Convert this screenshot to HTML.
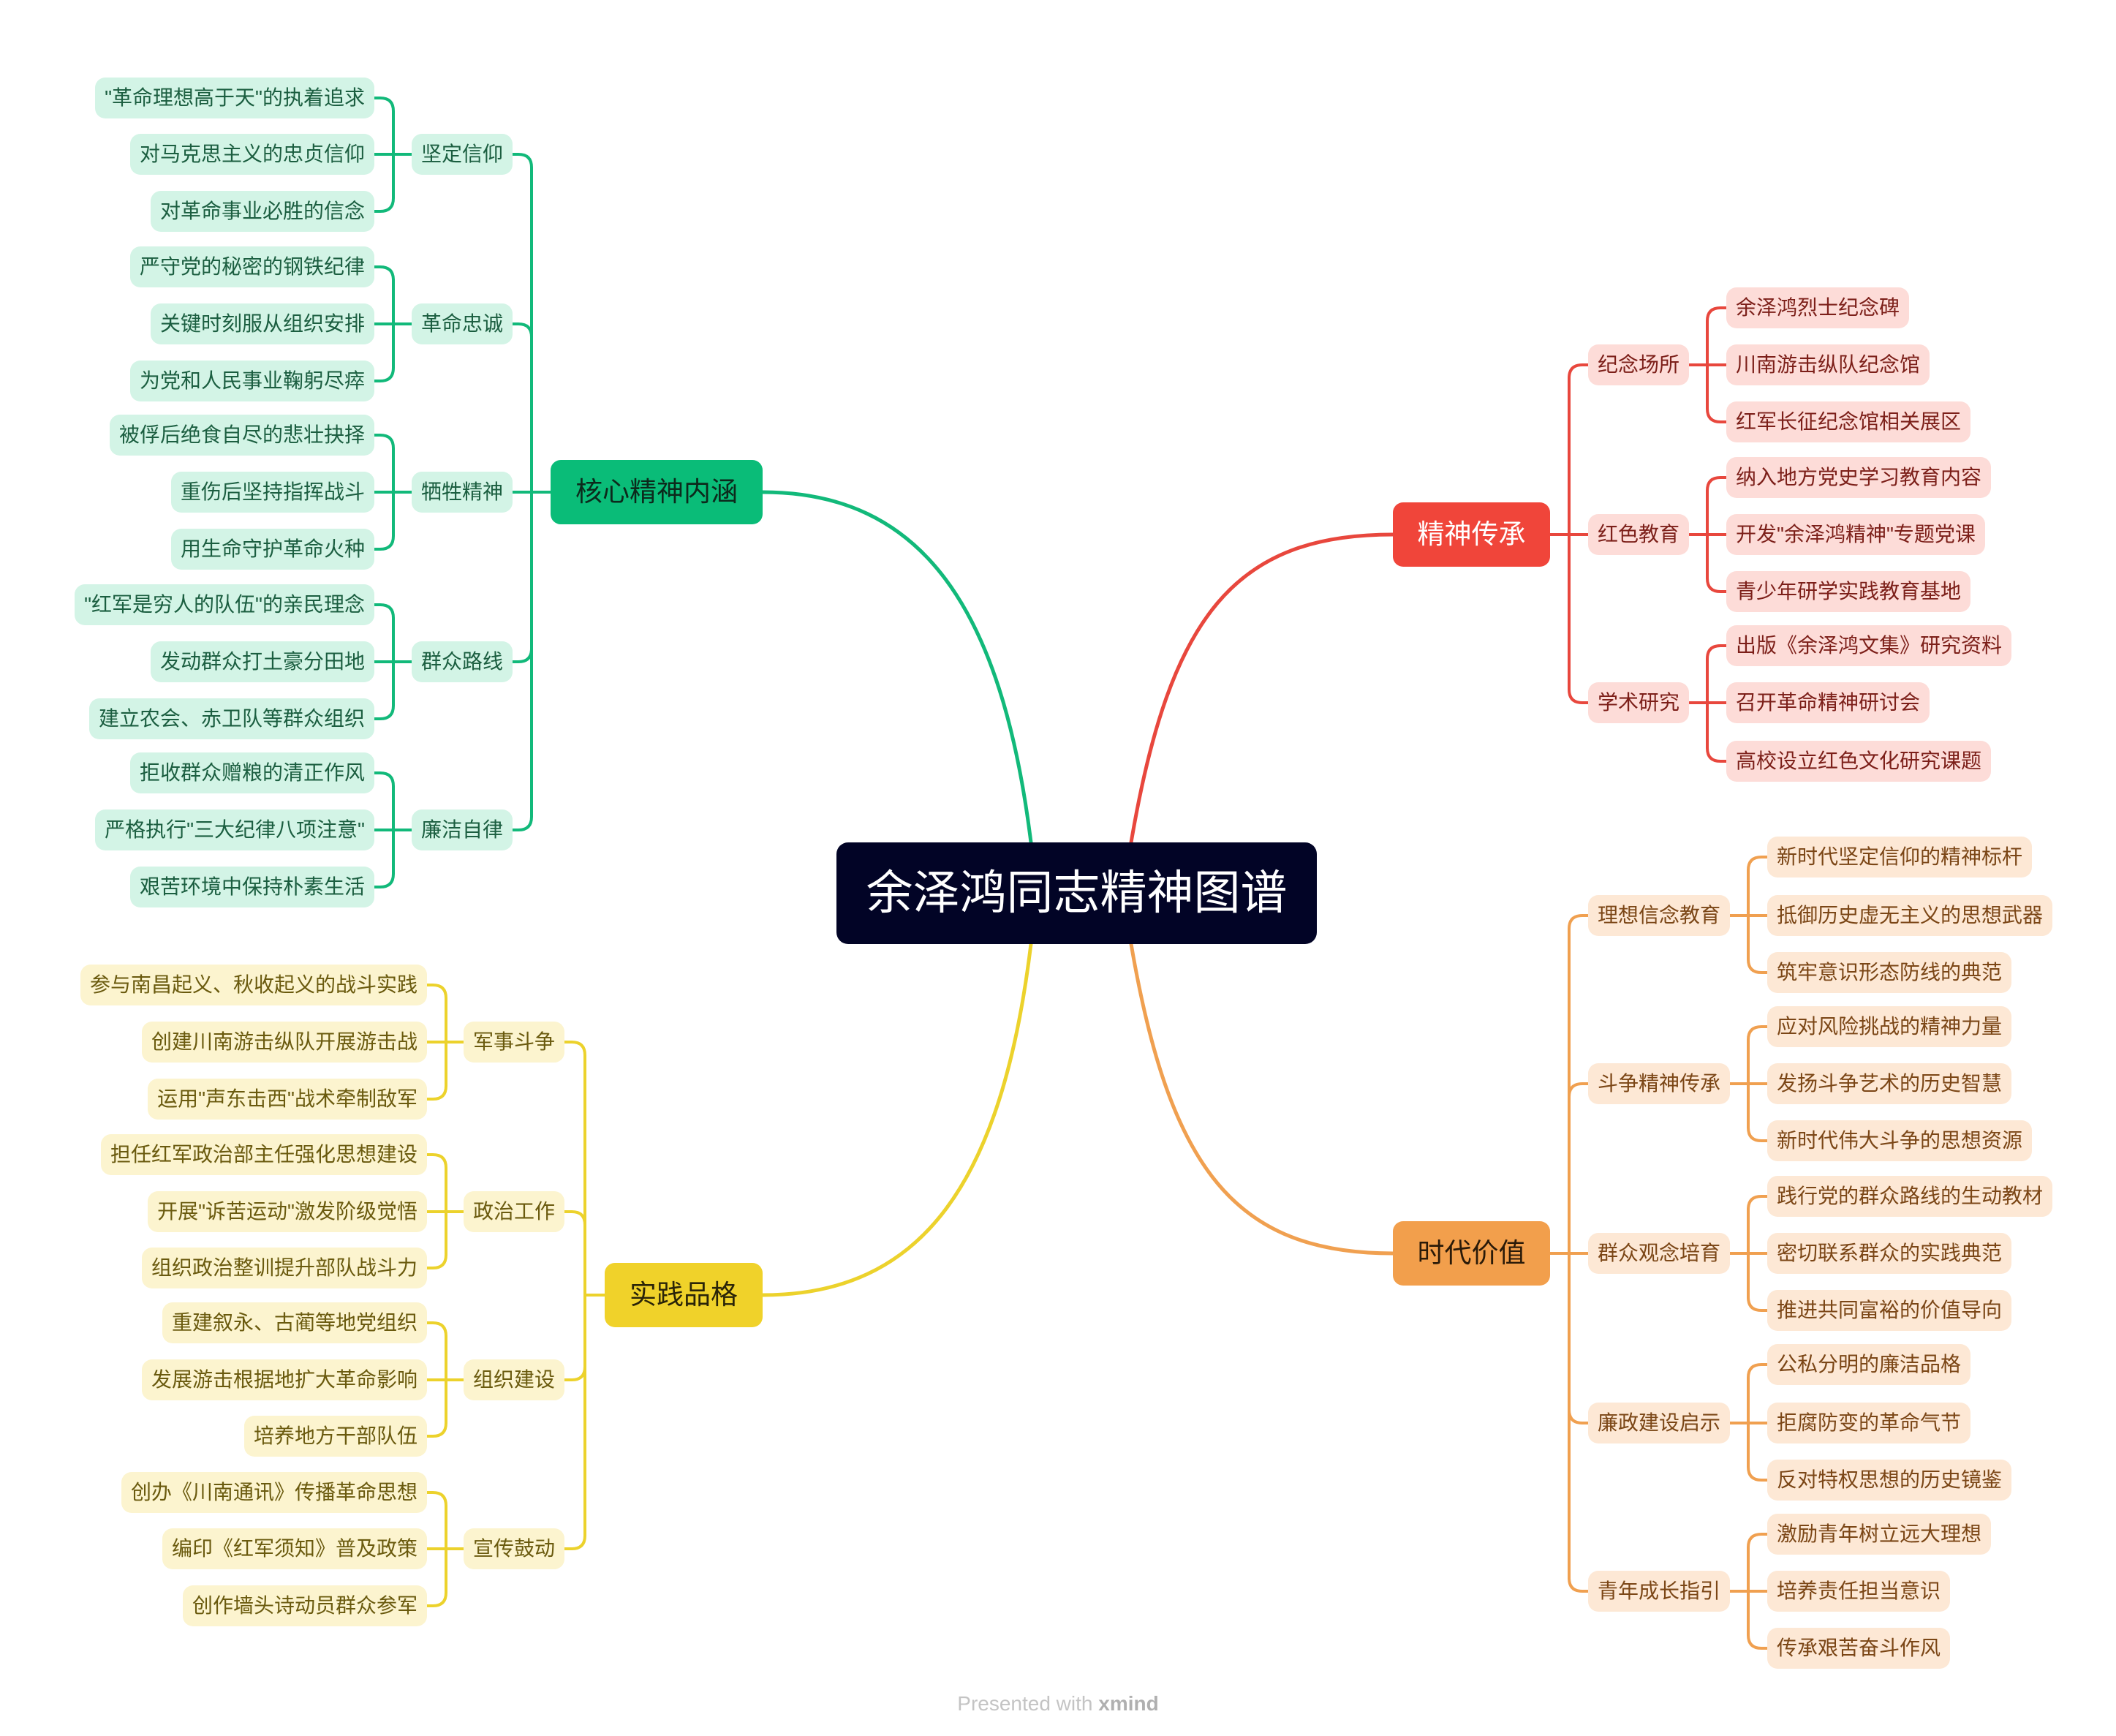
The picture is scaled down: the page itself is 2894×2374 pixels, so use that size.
<!DOCTYPE html>
<html><head><meta charset="utf-8"><style>
body{margin:0;width:2894px;height:2374px;position:relative;background:#fff;overflow:hidden;font-family:"Liberation Sans","Noto Sans CJK SC",sans-serif}
.n{position:absolute;height:56px;line-height:56px;font-size:28px;padding:0 13px;border-radius:14px;white-space:nowrap;transform:translateY(-28px)}
.g{background:#d3f4e6;color:#1b5e40}.r{background:#fddcd8;color:#7c1f19}.o{background:#fde8d5;color:#7b4616}.y{background:#fcf4cf;color:#6a5a0e}
.m{position:absolute;height:88px;line-height:88px;font-size:37px;text-align:center;border-radius:14px;transform:translateY(-44px)}
svg{position:absolute;left:0;top:0}
</style></head><body>
<svg id="s" width="2894" height="2374" fill="none" stroke-linecap="round"></svg>

<div style="position:absolute;left:1144px;top:1152px;width:657px;height:139px;background:#020426;border-radius:16px;color:#fff;font-size:64px;line-height:139px;text-align:center">余泽鸿同志精神图谱</div>

<div class="m" style="left:753px;width:290px;top:673px;background:#0abc78;color:#0c2a1c">核心精神内涵</div>
<div class="m" style="left:1905px;width:215px;top:731px;background:#f0453a;color:#fff">精神传承</div>
<div class="m" style="left:1905px;width:215px;top:1714px;background:#f29f4c;color:#2a1a08">时代价值</div>
<div class="m" style="left:827px;width:216px;top:1771px;background:#f0d22a;color:#2a2408">实践品格</div>

<!-- green -->
<div class="n g" style="right:2193px;top:211px">坚定信仰</div>
<div class="n g" style="right:2193px;top:443px">革命忠诚</div>
<div class="n g" style="right:2193px;top:673px">牺牲精神</div>
<div class="n g" style="right:2193px;top:905px">群众路线</div>
<div class="n g" style="right:2193px;top:1135px">廉洁自律</div>
<div class="n g" style="right:2382px;top:134px">"革命理想高于天"的执着追求</div>
<div class="n g" style="right:2382px;top:211px">对马克思主义的忠贞信仰</div>
<div class="n g" style="right:2382px;top:289px">对革命事业必胜的信念</div>
<div class="n g" style="right:2382px;top:365px">严守党的秘密的钢铁纪律</div>
<div class="n g" style="right:2382px;top:443px">关键时刻服从组织安排</div>
<div class="n g" style="right:2382px;top:521px">为党和人民事业鞠躬尽瘁</div>
<div class="n g" style="right:2382px;top:595px">被俘后绝食自尽的悲壮抉择</div>
<div class="n g" style="right:2382px;top:673px">重伤后坚持指挥战斗</div>
<div class="n g" style="right:2382px;top:751px">用生命守护革命火种</div>
<div class="n g" style="right:2382px;top:827px">"红军是穷人的队伍"的亲民理念</div>
<div class="n g" style="right:2382px;top:905px">发动群众打土豪分田地</div>
<div class="n g" style="right:2382px;top:983px">建立农会、赤卫队等群众组织</div>
<div class="n g" style="right:2382px;top:1057px">拒收群众赠粮的清正作风</div>
<div class="n g" style="right:2382px;top:1135px">严格执行"三大纪律八项注意"</div>
<div class="n g" style="right:2382px;top:1213px">艰苦环境中保持朴素生活</div>

<!-- red -->
<div class="n r" style="left:2172px;top:499px">纪念场所</div>
<div class="n r" style="left:2172px;top:731px">红色教育</div>
<div class="n r" style="left:2172px;top:961px">学术研究</div>
<div class="n r" style="left:2361px;top:421px">余泽鸿烈士纪念碑</div>
<div class="n r" style="left:2361px;top:499px">川南游击纵队纪念馆</div>
<div class="n r" style="left:2361px;top:577px">红军长征纪念馆相关展区</div>
<div class="n r" style="left:2361px;top:653px">纳入地方党史学习教育内容</div>
<div class="n r" style="left:2361px;top:731px">开发"余泽鸿精神"专题党课</div>
<div class="n r" style="left:2361px;top:809px">青少年研学实践教育基地</div>
<div class="n r" style="left:2361px;top:883px">出版《余泽鸿文集》研究资料</div>
<div class="n r" style="left:2361px;top:961px">召开革命精神研讨会</div>
<div class="n r" style="left:2361px;top:1041px">高校设立红色文化研究课题</div>

<!-- orange -->
<div class="n o" style="left:2172px;top:1252px">理想信念教育</div>
<div class="n o" style="left:2172px;top:1482px">斗争精神传承</div>
<div class="n o" style="left:2172px;top:1714px">群众观念培育</div>
<div class="n o" style="left:2172px;top:1946px">廉政建设启示</div>
<div class="n o" style="left:2172px;top:2176px">青年成长指引</div>
<div class="n o" style="left:2417px;top:1172px">新时代坚定信仰的精神标杆</div>
<div class="n o" style="left:2417px;top:1252px">抵御历史虚无主义的思想武器</div>
<div class="n o" style="left:2417px;top:1330px">筑牢意识形态防线的典范</div>
<div class="n o" style="left:2417px;top:1404px">应对风险挑战的精神力量</div>
<div class="n o" style="left:2417px;top:1482px">发扬斗争艺术的历史智慧</div>
<div class="n o" style="left:2417px;top:1560px">新时代伟大斗争的思想资源</div>
<div class="n o" style="left:2417px;top:1636px">践行党的群众路线的生动教材</div>
<div class="n o" style="left:2417px;top:1714px">密切联系群众的实践典范</div>
<div class="n o" style="left:2417px;top:1792px">推进共同富裕的价值导向</div>
<div class="n o" style="left:2417px;top:1866px">公私分明的廉洁品格</div>
<div class="n o" style="left:2417px;top:1946px">拒腐防变的革命气节</div>
<div class="n o" style="left:2417px;top:2024px">反对特权思想的历史镜鉴</div>
<div class="n o" style="left:2417px;top:2098px">激励青年树立远大理想</div>
<div class="n o" style="left:2417px;top:2176px">培养责任担当意识</div>
<div class="n o" style="left:2417px;top:2254px">传承艰苦奋斗作风</div>

<!-- yellow -->
<div class="n y" style="right:2122px;top:1425px">军事斗争</div>
<div class="n y" style="right:2122px;top:1657px">政治工作</div>
<div class="n y" style="right:2122px;top:1887px">组织建设</div>
<div class="n y" style="right:2122px;top:2118px">宣传鼓动</div>
<div class="n y" style="right:2310px;top:1347px">参与南昌起义、秋收起义的战斗实践</div>
<div class="n y" style="right:2310px;top:1425px">创建川南游击纵队开展游击战</div>
<div class="n y" style="right:2310px;top:1503px">运用"声东击西"战术牵制敌军</div>
<div class="n y" style="right:2310px;top:1579px">担任红军政治部主任强化思想建设</div>
<div class="n y" style="right:2310px;top:1657px">开展"诉苦运动"激发阶级觉悟</div>
<div class="n y" style="right:2310px;top:1734px">组织政治整训提升部队战斗力</div>
<div class="n y" style="right:2310px;top:1809px">重建叙永、古蔺等地党组织</div>
<div class="n y" style="right:2310px;top:1887px">发展游击根据地扩大革命影响</div>
<div class="n y" style="right:2310px;top:1964px">培养地方干部队伍</div>
<div class="n y" style="right:2310px;top:2041px">创办《川南通讯》传播革命思想</div>
<div class="n y" style="right:2310px;top:2118px">编印《红军须知》普及政策</div>
<div class="n y" style="right:2310px;top:2196px">创作墙头诗动员群众参军</div>

<div style="position:absolute;left:0;width:2894px;top:2314px;text-align:center;font-size:28px;color:#c4c4c4">Presented with <b style="color:#b0b0b0">xmind</b></div>

<script>
var s=document.getElementById('s'),h='';
function p(d,c,w){h+='<path d="'+d+'" stroke="'+c+'" stroke-width="'+w+'"/>';}
function br(px,py,tx,cx,ys,c,w){
 p('M'+px+' '+py+'H'+tx,c,w);
 ys.forEach(function(y){
  if(Math.abs(y-py)<3){p('M'+tx+' '+py+'H'+cx,c,w);return;}
  var dir=cx>tx?1:-1,sg=y>py?1:-1,r=18;
  p('M'+tx+' '+py+'V'+(y-sg*r)+'Q'+tx+' '+y+' '+(tx+dir*r)+' '+y+'H'+cx,c,w);
 });
}
var G='#12b97a',R='#e8473d',O='#f0a050',Y='#ecd22c';
p('M1410 1152C1370 830 1260 673 1043 673',G,5);
p('M1547 1152C1600 840 1690 731 1905 731',R,5);
p('M1410 1291C1370 1620 1260 1771 1043 1771',Y,5);
p('M1547 1291C1600 1600 1690 1714 1905 1714',O,5);
br(753,673,727,701,[211,443,673,905,1135],G,4);
var gs=[211,443,673,905,1135],gl=[[134,211,289],[365,443,521],[595,673,751],[827,905,983],[1057,1135,1213]];
gs.forEach(function(y,i){br(564,y,538,512,gl[i],G,4);});
br(2120,731,2146,2172,[499,731,961],R,4);
var rl=[[421,499,577],[653,731,809],[883,961,1041]];
[499,731,961].forEach(function(y,i){br(2311,y,2335,2361,rl[i],R,4);});
br(2120,1714,2146,2172,[1252,1482,1714,1946,2176],O,4);
var ol=[[1172,1252,1330],[1404,1482,1560],[1636,1714,1792],[1866,1946,2024],[2098,2176,2254]];
[1252,1482,1714,1946,2176].forEach(function(y,i){br(2365,y,2391,2417,ol[i],O,4);});
br(827,1771,800,772,[1425,1657,1887,2118],Y,4);
var yl=[[1347,1425,1503],[1579,1657,1734],[1809,1887,1964],[2041,2118,2196]];
[1425,1657,1887,2118].forEach(function(y,i){br(636,y,610,584,yl[i],Y,4);});
s.innerHTML=h;
</script>
</body></html>
